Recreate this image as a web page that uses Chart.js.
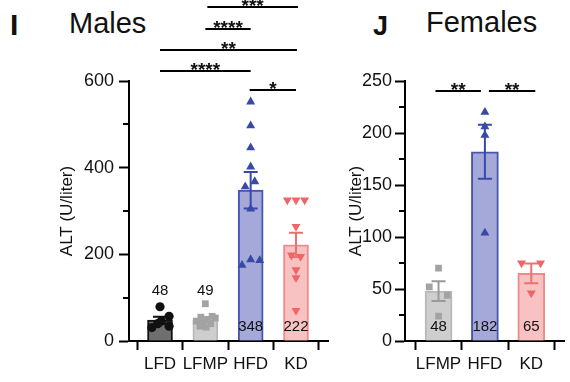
<!DOCTYPE html>
<html><head><meta charset="utf-8">
<script src="https://cdn.jsdelivr.net/npm/chart.js@4/dist/chart.umd.min.js"></script>
<style>
body{margin:0;width:570px;height:382px;background:#fff;position:relative;overflow:hidden;font-family:"Liberation Sans",Arial,sans-serif;}
canvas{position:absolute;top:0}
.t{position:absolute;color:#111;white-space:nowrap;font-family:"Liberation Sans",Arial,sans-serif}
</style></head><body>
<div class="t" style="left:10px;top:10px;font-size:30px;line-height:30px;font-weight:bold">I</div>
<div class="t" style="left:69px;top:9px;font-size:29px;line-height:29px">Males</div>
<div class="t" style="left:373px;top:13px;font-size:27px;line-height:27px;font-weight:bold">J</div>
<div class="t" style="left:426px;top:8px;font-size:29px;line-height:29px">Females</div>
<canvas id="cm" width="335" height="382" style="left:0"></canvas>
<canvas id="cf" width="235" height="382" style="left:335px"></canvas>
<script>
// ---------- DATA ----------
const maleGroups = ['LFD', 'LFMP', 'HFD', 'KD'];
const maleMeans = [48, 49, 348, 222];
const maleSEM = [8, 5, 42, 28];
const maleLFD = [79, 57, 46, 40, 34, 31];
const maleLFMP = [86, 57, 55, 53, 50, 46, 43, 40, 34, 32];
const maleHFD = [552, 497, 446, 402, 368, 356, 305, 175, 188, 186];
const maleKD = [325, 325, 325, 264, 198, 195, 164, 146, 70];
const maleYTicks = [0, 200, 400, 600];
const maleMinorTicks = [100, 300, 500];
const maleSig = [[1, 3, '***'], [1, 2, '****'], [0, 3, '**'], [0, 2, '****'], [2, 3, '*']];

const femaleGroups = ['LFMP', 'HFD', 'KD'];
const femaleMeans = [48, 182, 65];
const femaleSEM = [9.5, 26, 9.5];
const femaleLFMP = [70, 52, 44, 24];
const femaleHFD = [220, 206, 198, 104];
const femaleKD = [75, 75, 46];
const femaleYTicks = [0, 50, 100, 150, 200, 250];
const femaleMinorTicks = [25, 75, 125, 175, 225];
const femaleSig = [[0, 1, '**'], [1, 2, '**']];

// horizontal scatter offsets (category units) for point layout
const jMLFD = [0, 0.2, 0.03, -0.05, 0.2, -0.18];
const jMLFMP = [0, 0.15, -0.1, 0.22, 0.05, -0.2, -0.05, 0.12, -0.12, 0.02];
const jMHFD = [0, 0, 0, 0, 0.09, -0.12, 0, -0.19, 0, 0.2];
const jMKD = [-0.19, 0, 0.19, 0, -0.1, 0.1, 0, 0, 0];
const jFLFMP = [0, -0.2, 0.19, 0];
const jFHFD = [0, 0, 0, 0];
const jFKD = [-0.21, 0.2, 0];

// ---------- STYLE ----------
const FONT = '"Liberation Sans", Arial, sans-serif';
const TXT = '#111';
const st = {
  LFD:  {fill:'#6f6f6f', border:'#111111', point:'#111111', err:'#111111', shape:'circle', rot:0, r:4.6},
  LFMP: {fill:'#cecece', border:'#b9b9b9', point:'#a3a3a3', err:'#9a9a9a', shape:'rect', rot:0, r:4.8},
  HFD:  {fill:'#a4a9da', border:'#4656ad', point:'#3949a6', err:'#3949a6', shape:'triangle', rot:0, r:5.2},
  KD:   {fill:'#f8c2c2', border:'#f08a8a', point:'#f06666', err:'#ee7070', shape:'triangle', rot:180, r:5.2}
};

function pts(vals, jit, i){ return vals.map((v,k)=>({x:i + jit[k], y:v})); }

function overlay(groups, means, sem, minor, sig, labelMode, sigY, sigOff){
  return {
    id:'overlay',
    afterDatasetDraw(chart, args){
      if (args.index !== 0) return;
      const xs = chart.scales.x, ys = chart.scales.y, ctx = chart.ctx;
      ctx.save();
      groups.forEach((g,i)=>{
        const x = xs.getPixelForValue(i);
        const yt = ys.getPixelForValue(means[i] + sem[i]);
        const yb = ys.getPixelForValue(means[i] - sem[i]);
        ctx.strokeStyle = st[g].err; ctx.lineWidth = 2;
        ctx.beginPath();
        ctx.moveTo(x, yt); ctx.lineTo(x, yb);
        ctx.moveTo(x-7, yt); ctx.lineTo(x+7, yt);
        ctx.moveTo(x-7, yb); ctx.lineTo(x+7, yb);
        ctx.stroke();
      });
      ctx.restore();
    },
    afterDraw(chart){
      const xs = chart.scales.x, ys = chart.scales.y, ctx = chart.ctx;
      ctx.save();
      // minor y ticks
      ctx.strokeStyle = '#000'; ctx.lineWidth = 2;
      const ax = chart.chartArea.left;
      minor.forEach(v=>{
        const y = Math.round(ys.getPixelForValue(v));
        ctx.beginPath(); ctx.moveTo(ax-6, y); ctx.lineTo(ax, y); ctx.stroke();
      });
      // value labels
      ctx.fillStyle = TXT; ctx.font = '15px ' + FONT; ctx.textAlign = 'center'; ctx.textBaseline = 'middle';
      const y0 = ys.getPixelForValue(0);
      groups.forEach((g,i)=>{
        const x = xs.getPixelForValue(i);
        const above = labelMode[i];
        ctx.fillText(String(means[i]), x, above ? y0 - 50 : y0 - 14);
      });
      // significance brackets
      ctx.strokeStyle = '#000'; ctx.lineWidth = 2;
      ctx.font = 'bold 19px ' + FONT; ctx.textBaseline = 'alphabetic';
      sig.forEach((s,k)=>{
        const off = sigOff[k] || [1,1];
        const x1 = xs.getPixelForValue(s[0]) + off[0];
        const x2 = xs.getPixelForValue(s[1]) + off[1];
        const y = sigY[k];
        ctx.beginPath(); ctx.moveTo(x1, y); ctx.lineTo(x2, y); ctx.stroke();
        ctx.fillText(s[2], (x1+x2)/2, y + 5);
      });
      ctx.restore();
    }
  };
}

function makeChart(id, groups, means, sem, series, jits, yTicks, yMax, minor, sig, labelMode, sigY, sigOff, lay){
  const datasets = [{
    type:'bar', order:3,
    data: means.map((v,i)=>({x:i, y:v})),
    backgroundColor: groups.map(g=>st[g].fill),
    borderColor: groups.map(g=>st[g].border),
    borderWidth: 2, borderSkipped: 'bottom', barThickness: lay.barW
  }];
  groups.forEach((g,i)=>{
    datasets.push({
      type:'scatter', order:1,
      data: pts(series[i], jits[i], i),
      pointStyle: st[g].shape, rotation: st[g].rot, pointRadius: st[g].r,
      backgroundColor: st[g].point, borderColor: st[g].point, borderWidth: 0
    });
  });
  const axisGrid = {drawOnChartArea:false, drawTicks:true, tickColor:'#000', tickWidth:2};
  return new Chart(document.getElementById(id), {
    type:'bar',
    data:{datasets},
    options:{
      responsive:false, animation:false, events:[],
      layout:{padding:{left:lay.padL, right:lay.padR, top:81, bottom:0}},
      plugins:{legend:{display:false}, tooltip:{enabled:false}},
      scales:{
        x:{type:'linear', min:lay.xMin, max:lay.xMax, offset:false,
           afterFit(s){ s.height = 41; },
           afterBuildTicks(s){ s.ticks = groups.map((g,i)=>({value:i})); },
           ticks:{callback:(v)=>groups[v], font:{size:17, family:FONT}, color:TXT, padding:4, maxRotation:0, autoSkip:false},
           grid:Object.assign({tickLength:9}, axisGrid),
           border:{color:'#000', width:2}},
        y:{type:'linear', min:0, max:yMax,
           afterFit(s){ s.width = lay.yW; },
           afterBuildTicks(s){ s.ticks = yTicks.map(v=>({value:v})); },
           ticks:{font:{size:18, family:FONT}, color:TXT, padding:lay.tickPad},
           grid:Object.assign({tickLength:10}, axisGrid),
           border:{color:'#000', width:2},
           title:{display:true, text:'ALT (U/liter)', font:{size:17, family:FONT}, color:TXT, padding:{top:4, bottom:4}}}
      }
    },
    plugins:[overlay(groups, means, sem, minor, sig, labelMode, sigY, sigOff)]
  });
}

makeChart('cm', maleGroups, maleMeans, maleSEM,
  [maleLFD, maleLFMP, maleHFD, maleKD], [jMLFD, jMLFMP, jMHFD, jMKD],
  maleYTicks, 600, maleMinorTicks, maleSig, [true, true, false, false],
  [7, 29, 50, 71, 90], [[2,2],[0,0],[0,1],[0,0],[-1,0]],
  {padL:53, padR:7, yW:76, tickPad:5, xMin:-0.684, xMax:3.706, barW:25});

makeChart('cf', femaleGroups, femaleMeans, femaleSEM,
  [femaleLFMP, femaleHFD, femaleKD], [jFLFMP, jFHFD, jFKD],
  femaleYTicks, 250, femaleMinorTicks, femaleSig, [false, false, false],
  [91, 91], [[-3,-4],[4,4]],
  {padL:7, padR:3, yW:63, tickPad:3, xMin:-0.723, xMax:2.723, barW:27});
</script>
</body></html>
